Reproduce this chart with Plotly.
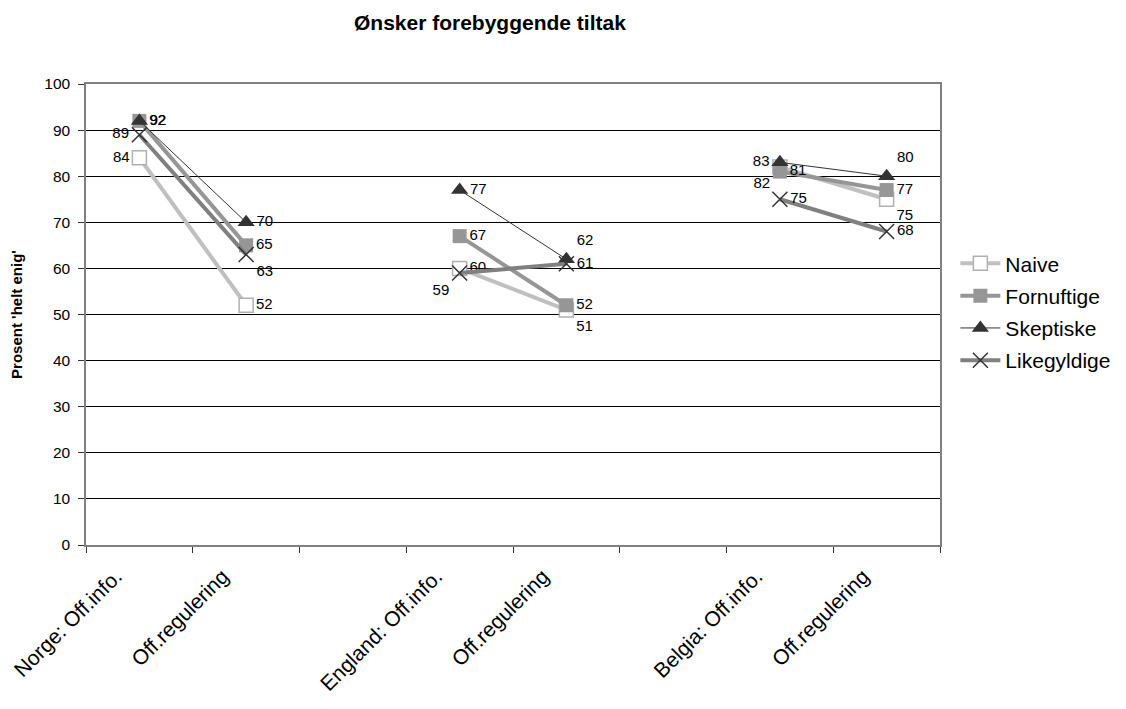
import plotly.graph_objects as go

# categories along x (blank slots split the countries)
categories = ["Norge: Off.info.", "Off.regulering", "",
              "England: Off.info.", "Off.regulering", "",
              "Belgia: Off.info.", "Off.regulering"]

naive = [84, 52, None, 60, 51, None, 82, 75]
fornuftige = [92, 65, None, 67, 52, None, 81, 77]
skeptiske = [92, 70, None, 77, 62, None, 83, 80]
likegyldige = [89, 63, None, 59, 61, None, 75, 68]

xs = list(range(len(categories)))
font = "Liberation Sans, Arial, sans-serif"

fig = go.Figure()

def add_series(name, vals, line_col, width, marker, textpos):
    fig.add_trace(go.Scatter(
        x=xs, y=vals, name=name, mode="lines+markers+text",
        legendgroup=name,
        text=[str(v) if v is not None else "" for v in vals],
        textposition=textpos,
        textfont=dict(family=font, size=15, color="black"),
        line=dict(color=line_col, width=width),
        marker=marker,
        connectgaps=False,
        cliponaxis=False,
    ))

add_series("Naive", naive, "#c0c0c0", 4,
           dict(symbol="square", size=14, color="white",
                line=dict(color="#b0b0b0", width=1.5)),
           ["middle left", "middle right", "middle right", "middle right",
            "bottom right", "middle right", "bottom left", "bottom right"])
add_series("Fornuftige", fornuftige, "#969696", 4,
           dict(symbol="square", size=14, color="#969696",
                line=dict(color="#969696", width=0)),
           ["middle right", "middle right", "middle right", "middle right",
            "middle right", "middle right", "middle right", "middle right"])
add_series("Skeptiske", skeptiske, "#333333", 1,
           dict(symbol="triangle-up", size=15, color="#333333",
                line=dict(width=0)),
           ["middle right", "middle right", "middle right", "middle right",
            "top right", "middle right", "middle left", "top right"])
add_series("Likegyldige", likegyldige, "#808080", 4,
           dict(symbol="x-thin", size=15, color="#333333",
                line=dict(color="#333333", width=1.5)),
           ["middle left", "bottom right", "middle right", "bottom left",
            "middle right", "middle right", "middle right", "middle right"])

fig.update_layout(
    width=1126, height=709,
    paper_bgcolor="white", plot_bgcolor="white",
    margin=dict(l=78, r=194, t=76, b=172),
    font=dict(family=font, color="black"),
    title=dict(text="<b>Ønsker forebyggende tiltak</b>",
               font=dict(size=21, family=font),
               x=0.428, xanchor="center", y=0.98, yanchor="middle"),
    showlegend=True,
    legend=dict(x=1.018, y=0.505, xanchor="left", yanchor="middle",
                font=dict(size=21, family=font), tracegroupgap=2,
                itemwidth=40),
    xaxis=dict(
        range=[-0.5, len(categories) - 0.5],
        tickvals=[x - 0.22 for x in xs], ticktext=categories, tickangle=-45,
        ticks="", automargin=False, ticklabelstandoff=9,
        ticklabeloverflow="allow",
        tickfont=dict(size=21, family=font),
        showgrid=False, zeroline=False,
        showline=True, linecolor="#808080", linewidth=1.5, mirror=True,
        minor=dict(tickvals=[i - 0.5 for i in range(len(categories) + 1)],
                   ticks="outside", ticklen=6, tickcolor="#333333",
                   showgrid=False),
    ),
    yaxis=dict(
        range=[0, 100], dtick=10, automargin=False,
        title=dict(text="<b>Prosent 'helt enig'</b>",
                   font=dict(size=15, family=font), standoff=18),
        tickfont=dict(size=15.5, family=font),
        ticks="outside", ticklen=6, tickcolor="#333333",
        ticklabelstandoff=5,
        showgrid=True, gridcolor="black", gridwidth=1,
        zeroline=False,
        showline=True, linecolor="#808080", linewidth=1.5, mirror=True,
    ),
)

fig.write_html("out.html")
